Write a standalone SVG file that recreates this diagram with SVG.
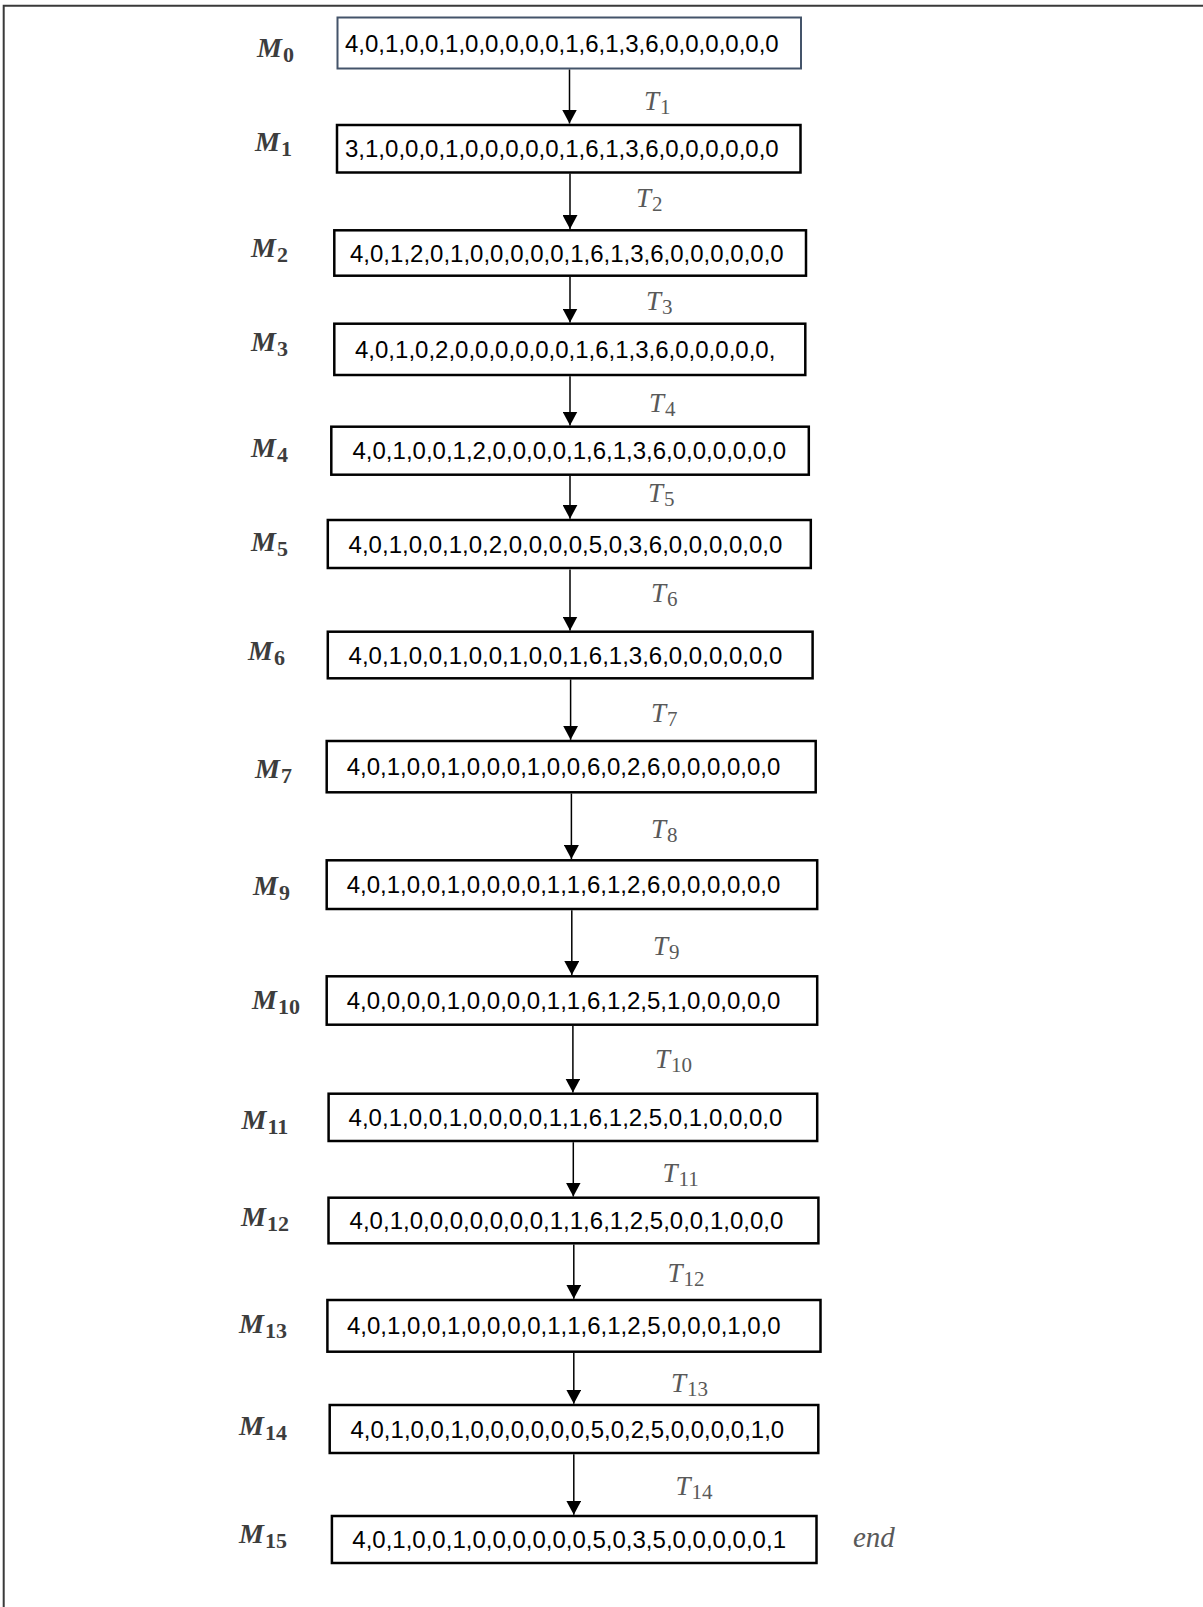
<svg xmlns="http://www.w3.org/2000/svg" width="1203" height="1607" viewBox="0 0 1203 1607">
  <defs>
    <style>
      .box { fill: #ffffff; stroke: #000000; stroke-width: 2.5; }
      .box0 { fill: #ffffff; stroke: #44546a; stroke-width: 2; }
      .val { font-family: "Liberation Sans", Arial, sans-serif; font-size: 24px; fill: #000000; }
      .mlab { font-family: "Liberation Serif", "DejaVu Serif", serif; font-size: 28px; font-weight: bold; font-style: italic; fill: #3d3d3d; }
      .msub { font-size: 22px; font-style: normal; }
      .tlab { font-family: "Liberation Serif", "DejaVu Serif", serif; font-size: 27px; font-style: italic; fill: #595959; }
      .tsub { font-size: 21px; font-style: normal; }
      .endlab { font-size: 29px; }
      .edge { stroke: #000000; stroke-width: 1.5; fill: none; marker-end: url(#arrow); }
      .frame { stroke: #3a3a3a; stroke-width: 2; fill: none; }
    </style>
    <marker id="arrow" viewBox="0 0 14 15" refX="14" refY="7.5" markerWidth="14" markerHeight="15" markerUnits="userSpaceOnUse" orient="auto">
      <path d="M0,0 L14,7.5 L0,15 z" fill="#000000"/>
    </marker>
  </defs>

  <rect x="0" y="0" width="1203" height="1607" fill="#ffffff"/>
  <!-- page frame (top and left edges) -->
  <path class="frame" d="M3.7,1607 V5.7 H1203"/>

  <!-- marking states -->
  <g id="M0">
    <rect class="box0" x="337.5" y="17.5" width="463.5" height="51"/>
    <text class="val" x="345" y="51.5">4,0,1,0,0,1,0,0,0,0,0,1,6,1,3,6,0,0,0,0,0,0</text>
    <text class="mlab" x="257" y="56.7">M<tspan class="msub" dx="1" dy="5">0</tspan></text>
  </g>
  <g id="M1">
    <rect class="box" x="337" y="125" width="463.5" height="47.5"/>
    <text class="val" x="345" y="157">3,1,0,0,0,1,0,0,0,0,0,1,6,1,3,6,0,0,0,0,0,0</text>
    <text class="mlab" x="255" y="151">M<tspan class="msub" dx="1" dy="5">1</tspan></text>
  </g>
  <g id="M2">
    <rect class="box" x="334.3" y="230.3" width="471.7" height="45.4"/>
    <text class="val" x="350" y="261.5">4,0,1,2,0,1,0,0,0,0,0,1,6,1,3,6,0,0,0,0,0,0</text>
    <text class="mlab" x="251" y="257.3">M<tspan class="msub" dx="1" dy="5">2</tspan></text>
  </g>
  <g id="M3">
    <rect class="box" x="334.3" y="323.7" width="471" height="51.3"/>
    <text class="val" x="355" y="357.8">4,0,1,0,2,0,0,0,0,0,0,1,6,1,3,6,0,0,0,0,0,</text>
    <text class="mlab" x="251" y="350.7">M<tspan class="msub" dx="1" dy="5">3</tspan></text>
  </g>
  <g id="M4">
    <rect class="box" x="331.3" y="426.7" width="477.5" height="48"/>
    <text class="val" x="352.5" y="459">4,0,1,0,0,1,2,0,0,0,0,1,6,1,3,6,0,0,0,0,0,0</text>
    <text class="mlab" x="251" y="457">M<tspan class="msub" dx="1" dy="5">4</tspan></text>
  </g>
  <g id="M5">
    <rect class="box" x="327.8" y="520" width="483" height="48"/>
    <text class="val" x="348.6" y="552.5">4,0,1,0,0,1,0,2,0,0,0,0,5,0,3,6,0,0,0,0,0,0</text>
    <text class="mlab" x="251" y="551">M<tspan class="msub" dx="1" dy="5">5</tspan></text>
  </g>
  <g id="M6">
    <rect class="box" x="327.8" y="631.7" width="484.8" height="46.6"/>
    <text class="val" x="348.6" y="663.5">4,0,1,0,0,1,0,0,1,0,0,1,6,1,3,6,0,0,0,0,0,0</text>
    <text class="mlab" x="248" y="660">M<tspan class="msub" dx="1" dy="5">6</tspan></text>
  </g>
  <g id="M7">
    <rect class="box" x="326.7" y="741" width="489" height="51.3"/>
    <text class="val" x="346.7" y="775">4,0,1,0,0,1,0,0,0,1,0,0,6,0,2,6,0,0,0,0,0,0</text>
    <text class="mlab" x="255" y="778.3">M<tspan class="msub" dx="1" dy="5">7</tspan></text>
  </g>
  <g id="M9">
    <rect class="box" x="326.7" y="860.3" width="490.5" height="48.7"/>
    <text class="val" x="346.7" y="893">4,0,1,0,0,1,0,0,0,0,1,1,6,1,2,6,0,0,0,0,0,0</text>
    <text class="mlab" x="253" y="895">M<tspan class="msub" dx="1" dy="5">9</tspan></text>
  </g>
  <g id="M10">
    <rect class="box" x="326.7" y="976.3" width="490.5" height="48.4"/>
    <text class="val" x="346.7" y="1009">4,0,0,0,0,1,0,0,0,0,1,1,6,1,2,5,1,0,0,0,0,0</text>
    <text class="mlab" x="252" y="1009.3">M<tspan class="msub" dx="1" dy="5">10</tspan></text>
  </g>
  <g id="M11">
    <rect class="box" x="328.6" y="1093.7" width="488.6" height="47.3"/>
    <text class="val" x="348.6" y="1125.8">4,0,1,0,0,1,0,0,0,0,1,1,6,1,2,5,0,1,0,0,0,0</text>
    <text class="mlab" x="241.5" y="1129.3">M<tspan class="msub" dx="1" dy="5">11</tspan></text>
  </g>
  <g id="M12">
    <rect class="box" x="328.5" y="1197.7" width="489.9" height="45.6"/>
    <text class="val" x="349.6" y="1229">4,0,1,0,0,0,0,0,0,0,1,1,6,1,2,5,0,0,1,0,0,0</text>
    <text class="mlab" x="241" y="1226">M<tspan class="msub" dx="1" dy="5">12</tspan></text>
  </g>
  <g id="M13">
    <rect class="box" x="327.4" y="1300" width="493.1" height="51.7"/>
    <text class="val" x="347" y="1334.3">4,0,1,0,0,1,0,0,0,0,1,1,6,1,2,5,0,0,0,1,0,0</text>
    <text class="mlab" x="239" y="1333">M<tspan class="msub" dx="1" dy="5">13</tspan></text>
  </g>
  <g id="M14">
    <rect class="box" x="329.7" y="1405" width="488.6" height="48"/>
    <text class="val" x="350.5" y="1437.5">4,0,1,0,0,1,0,0,0,0,0,0,5,0,2,5,0,0,0,0,1,0</text>
    <text class="mlab" x="239" y="1435">M<tspan class="msub" dx="1" dy="5">14</tspan></text>
  </g>
  <g id="M15">
    <rect class="box" x="331.9" y="1516" width="484.6" height="47"/>
    <text class="val" x="352.3" y="1548">4,0,1,0,0,1,0,0,0,0,0,0,5,0,3,5,0,0,0,0,0,1</text>
    <text class="mlab" x="239" y="1543">M<tspan class="msub" dx="1" dy="5">15</tspan></text>
    <text class="tlab endlab" x="853" y="1546.7">end</text>
  </g>

  <!-- transitions between consecutive markings -->
  <g id="connectors">
    <line class="edge" x1="569.5" y1="69.5" x2="569.5" y2="123.5"/>
    <line class="edge" x1="570" y1="173.5" x2="570" y2="229"/>
    <line class="edge" x1="570" y1="277" x2="570" y2="322.5"/>
    <line class="edge" x1="570" y1="376.2" x2="570" y2="425.5"/>
    <line class="edge" x1="570" y1="476" x2="570" y2="518.8"/>
    <line class="edge" x1="570" y1="569.5" x2="570" y2="630.5"/>
    <line class="edge" x1="570.6" y1="679.5" x2="570.6" y2="739.8"/>
    <line class="edge" x1="571.4" y1="793.5" x2="571.4" y2="859"/>
    <line class="edge" x1="571.8" y1="910.2" x2="571.8" y2="975"/>
    <line class="edge" x1="572.9" y1="1026" x2="572.9" y2="1092.5"/>
    <line class="edge" x1="573.3" y1="1142.2" x2="573.3" y2="1196.5"/>
    <line class="edge" x1="573.8" y1="1244.5" x2="573.8" y2="1298.8"/>
    <line class="edge" x1="573.8" y1="1353" x2="573.8" y2="1403.8"/>
    <line class="edge" x1="573.8" y1="1454.2" x2="573.8" y2="1514.8"/>

    <text class="tlab" x="644" y="110">T<tspan class="tsub" dx="1" dy="4">1</tspan></text>
    <text class="tlab" x="636" y="206.7">T<tspan class="tsub" dx="1" dy="4">2</tspan></text>
    <text class="tlab" x="646" y="310">T<tspan class="tsub" dx="1" dy="4">3</tspan></text>
    <text class="tlab" x="649" y="411.7">T<tspan class="tsub" dx="1" dy="4">4</tspan></text>
    <text class="tlab" x="648" y="501.7">T<tspan class="tsub" dx="1" dy="4">5</tspan></text>
    <text class="tlab" x="651" y="601.7">T<tspan class="tsub" dx="1" dy="4">6</tspan></text>
    <text class="tlab" x="651" y="721.7">T<tspan class="tsub" dx="1" dy="4">7</tspan></text>
    <text class="tlab" x="651" y="838.3">T<tspan class="tsub" dx="1" dy="4">8</tspan></text>
    <text class="tlab" x="653" y="955">T<tspan class="tsub" dx="1" dy="4">9</tspan></text>
    <text class="tlab" x="655" y="1068.3">T<tspan class="tsub" dx="1" dy="4">10</tspan></text>
    <text class="tlab" x="662.5" y="1181.7">T<tspan class="tsub" dx="1" dy="4">11</tspan></text>
    <text class="tlab" x="667.5" y="1281.7">T<tspan class="tsub" dx="1" dy="4">12</tspan></text>
    <text class="tlab" x="671" y="1391.7">T<tspan class="tsub" dx="1" dy="4">13</tspan></text>
    <text class="tlab" x="675.5" y="1495">T<tspan class="tsub" dx="1" dy="4">14</tspan></text>
  </g>
</svg>
